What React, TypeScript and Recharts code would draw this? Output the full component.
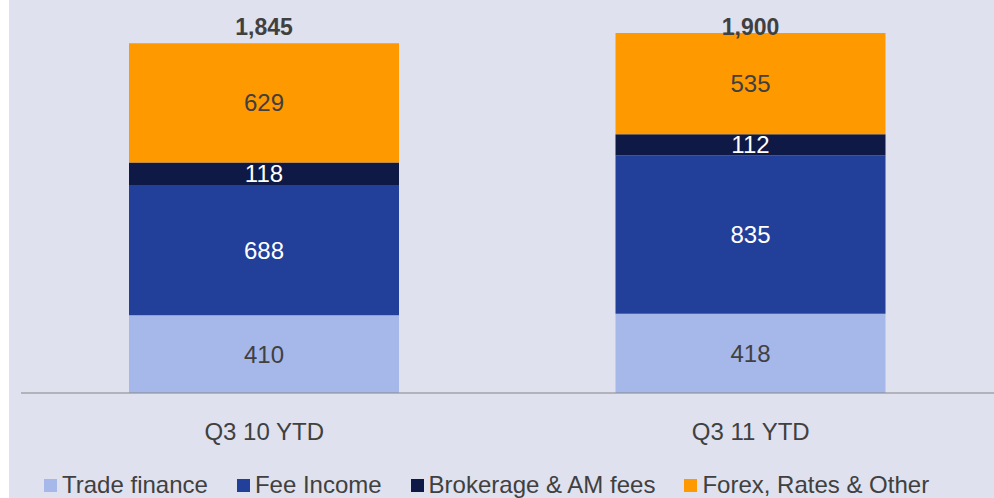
import { Bar, BarChart, LabelList, Legend, XAxis, YAxis } from 'recharts';

const categories = ['Q3 10 YTD', 'Q3 11 YTD'];
const tradeFinance = [410, 418];
const feeIncome = [688, 835];
const brokerage = [118, 112];
const forexRates = [629, 535];
const totals = [1845, 1900];

const seriesInfo = [
  { key: 'trade', name: 'Trade finance', color: '#a6b7ea', labelColor: '#404040' },
  { key: 'fee', name: 'Fee Income', color: '#223f9a', labelColor: '#ffffff' },
  { key: 'brokerage', name: 'Brokerage & AM fees', color: '#0e1a45', labelColor: '#ffffff' },
  { key: 'forex', name: 'Forex, Rates & Other', color: '#ff9900', labelColor: '#404040' }
];

const chartData = categories.map((name, i) => ({
  name,
  trade: tradeFinance[i],
  fee: feeIncome[i],
  brokerage: brokerage[i],
  forex: forexRates[i],
  total: totals[i]
}));

const FONT = '"Liberation Sans", Arial, sans-serif';
const TOP = 14;

function TotalLabel(props: any) {
  const { x, width, value } = props;
  return (
    <text
      x={x + width / 2}
      y={TOP + 13}
      textAnchor="middle"
      dominantBaseline="central"
      fill="#404040"
      fontSize={23}
      fontWeight="bold"
      fontFamily={FONT}
    >
      {Number(value).toLocaleString('en-US')}
    </text>
  );
}

function LegendContent() {
  return (
    <div style={{ display: 'flex', paddingLeft: 35, fontFamily: FONT, fontSize: 24, color: '#404040', lineHeight: '34px', whiteSpace: 'nowrap' }}>
      {seriesInfo.map((s) => (
        <div key={s.key} style={{ display: 'flex', alignItems: 'center', marginRight: 29 }}>
          <span style={{ width: 13, height: 13, background: s.color, marginRight: 5, display: 'inline-block' }} />
          <span>{s.name}</span>
        </div>
      ))}
    </div>
  );
}

export default function App() {
  return (
    <div style={{ position: 'absolute', left: 9, top: 0, width: 985, height: 498, background: '#dfe1ee', overflow: 'hidden' }}>
      <BarChart width={985} height={498} data={chartData} margin={{ top: TOP, right: 0, bottom: 0, left: 12 }}>
        <XAxis
          dataKey="name"
          tickLine={false}
          tickSize={0}
          tickMargin={30}
          height={75}
          stroke="#868686"
          tick={{ fill: '#404040', fontSize: 24, fontFamily: FONT }}
        />
        <YAxis hide domain={[0, 2000]} />
        <Legend verticalAlign="bottom" height={30} content={<LegendContent />} wrapperStyle={{ left: 0, width: 985 }} />
        {seriesInfo.map((s, idx) => (
          <Bar key={s.key} dataKey={s.key} name={s.name} stackId="a" fill={s.color} barSize={270} isAnimationActive={false}>
            <LabelList dataKey={s.key} position="center" fill={s.labelColor} fontSize={24} fontFamily={FONT} />
            {idx === seriesInfo.length - 1 && <LabelList dataKey="total" content={<TotalLabel />} />}
          </Bar>
        ))}
      </BarChart>
    </div>
  );
}
